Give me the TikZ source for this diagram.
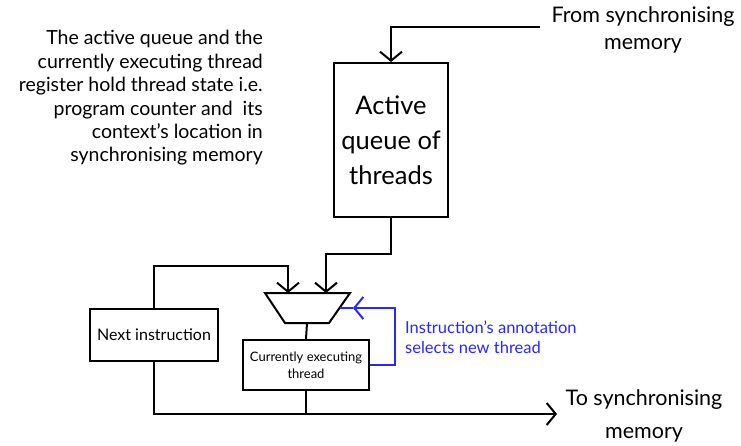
\documentclass[tikz,border=0pt]{standalone}
\usepackage{fontspec}
\setmainfont{Lato}
\usetikzlibrary{arrows.meta}
\definecolor{selblue}{RGB}{40,40,250}
\begin{document}
\begin{tikzpicture}[x=1pt,y=-1pt,
  wire/.style={line width=2pt},
  arr/.style={wire,-{Straight Barb[length=9pt,width=22pt,line width=2pt]}},
  box/.style={draw,line width=2pt,fill=white,inner sep=2pt,align=center},
  txt/.style={align=center,inner sep=0pt}]
\useasboundingbox (0,0) rectangle (741,446);

% left note
\node[align=right,inner sep=0pt,anchor=east,font=\fontsize{19.5}{23.4}\selectfont] (note) at (263,98)
 {The active queue and the\\currently executing thread\\register hold thread state i.e.\\program counter and\ \ its\\context's location in\\synchronising memory};

% active queue
\node[box,minimum width=114,minimum height=154,font=\fontsize{25.5}{35}\selectfont] (aq) at (391,140) {Active\\queue of\\threads};

% from memory
\node[txt,font=\fontsize{21.5}{27}\selectfont] (from) at (643,30) {From synchronising\\memory};
\coordinate (fromc) at (540,27);
\draw[arr] (fromc) -| (aq.north);

% multiplexer
\coordinate (mtl) at (265,293);
\coordinate (mtr) at (350,293);
\coordinate (mbr) at (329,323);
\coordinate (mbl) at (285,323);
\coordinate (min1) at (288,293);
\coordinate (min2) at (326,293);
\coordinate (mout) at (307,323);
\coordinate (msel) at (339.5,308);
\draw[wire,line join=miter] (mtl) -- (mtr) -- (mbr) -- (mbl) -- cycle;

% next instruction
\node[box,minimum width=128,minimum height=52,font=\fontsize{16}{19}\selectfont] (ni) at (154,335) {Next instruction};

% currently executing
\node[box,minimum width=126,minimum height=50,font=\fontsize{13}{17}\selectfont] (cur) at (306,365) {Currently executing\\thread};

\draw[arr] (aq.south) -- ++(0,36) -| (min2);
\draw[arr] (ni.north) -- ++(0,-42) -| (min1);
\draw[wire] (mout) -- (cur.north);

% to memory
\coordinate (tomem) at (557,414);
\node[txt,font=\fontsize{21.5}{33}\selectfont] (to) at (644,416) {To synchronising\\memory};
\draw[arr] (ni.south) |- (tomem);
\draw[wire] (cur.south) -- (cur.south |- tomem);

% selection feedback
\coordinate (selc) at (353,308);
\draw[wire,selblue,-{Straight Barb[length=9pt,width=22pt,line width=2pt]}] (cur.east) -- (395,365) |- (selc);
\draw[wire,selblue] (selc) -- (msel);
\node[txt,anchor=west,align=left,text=selblue,font=\fontsize{16.5}{20}\selectfont] (ann) at (405,337) {Instruction's annotation\\selects new thread};
\end{tikzpicture}
\end{document}
